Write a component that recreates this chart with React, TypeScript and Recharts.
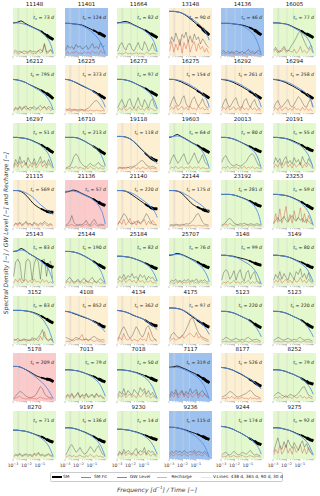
import React from "react";
import { LineChart, Line, XAxis, YAxis, ReferenceLine } from "recharts";

// station ids, one per panel (6 columns x 8 rows)
const stations = [
  "11148", "11401", "11664", "13148", "14136", "16005",
  "16212", "16225", "16273", "16275", "16292", "16294",
  "16297", "16710", "19118", "19603", "20013", "20191",
  "21115", "21136", "21140", "22144", "23192", "23253",
  "25143", "25144", "25184", "25707", "3148", "3149",
  "3152", "4108", "4134", "4175", "5123", "5123",
  "5178", "7013", "7018", "7117", "8177", "8252",
  "8270", "9197", "9230", "9236", "9244", "9275",
];

// panel class: g = green, o = orange, b = blue, r = red
const classes = [
  "g", "b", "g", "o", "b", "g",
  "g", "o", "g", "o", "o", "o",
  "g", "g", "o", "g", "g", "g",
  "o", "r", "o", "o", "g", "g",
  "g", "g", "g", "g", "g", "g",
  "g", "o", "o", "o", "g", "g",
  "r", "g", "g", "b", "o", "g",
  "g", "g", "g", "b", "g", "g",
];

const tcDays = [
  73, 124, 82, 90, 46, 77,
  795, 373, 97, 154, 261, 258,
  51, 213, 118, 64, 80, 55,
  569, 57, 220, 175, 281, 59,
  83, 190, 82, 76, 99, 80,
  83, 852, 362, 97, 220, 220,
  209, 79, 50, 319, 526, 79,
  71, 136, 14, 115, 174, 92,
];

const specFreq = [0.001, 0.002, 0.004, 0.008, 0.015, 0.03, 0.06, 0.12, 0.2, 0.3, 0.45, 0.6, 0.8, 1.0];
const noiseFreq = [
  0.00112, 0.00158, 0.00229, 0.00324, 0.00457, 0.00661, 0.00933, 0.0132, 0.0186, 0.0269,
  0.038, 0.0537, 0.0776, 0.11, 0.155, 0.219, 0.316, 0.447, 0.631, 0.891,
];

const smCurves = [
  [69, 70, 73, 68, 64, 60, 56, 52, 47, 44, 40, 38, 36, 34],
  [68, 68, 67, 66, 65, 62, 58, 54, 51, 48, 46, 44, 42, 40],
  [69, 70, 72, 70, 66, 62, 58, 54, 50, 47, 44, 42, 40, 38],
  [93, 93, 92, 90, 86, 80, 73, 66, 61, 57, 52, 49, 46, 44],
  [68, 68, 68, 67, 66, 65, 63, 60, 57, 54, 51, 48, 46, 44],
  [69, 69, 68, 67, 65, 61, 57, 53, 49, 46, 44, 42, 40, 38],
  [70, 69, 67, 64, 60, 56, 52, 48, 44, 41, 38, 35, 32, 30],
  [70, 69, 66, 62, 58, 54, 50, 46, 42, 39, 36, 34, 32, 30],
  [70, 70, 69, 67, 64, 60, 56, 52, 48, 45, 42, 40, 38, 36],
  [70, 70, 68, 65, 61, 57, 52, 47, 43, 40, 37, 35, 33, 31],
  [70, 69, 67, 64, 60, 56, 51, 46, 42, 39, 36, 34, 32, 30],
  [70, 69, 67, 64, 60, 56, 51, 46, 42, 39, 36, 34, 32, 30],
  [70, 70, 69, 68, 66, 63, 59, 55, 51, 48, 45, 42, 40, 38],
  [70, 70, 70, 69, 66, 62, 57, 52, 48, 45, 41, 39, 37, 35],
  [72, 72, 71, 68, 63, 55, 46, 38, 32, 28, 25, 23, 22, 21],
  [70, 72, 76, 72, 68, 63, 58, 54, 50, 47, 44, 42, 40, 38],
  [70, 70, 69, 67, 64, 60, 56, 52, 49, 46, 44, 42, 41, 40],
  [70, 70, 69, 68, 66, 63, 59, 55, 51, 48, 46, 44, 43, 42],
  [78, 78, 76, 70, 62, 52, 45, 40, 37, 35, 34, 33, 33, 33],
  [75, 76, 79, 77, 73, 69, 65, 61, 57, 54, 51, 49, 48, 47],
  [78, 78, 77, 73, 68, 62, 56, 50, 46, 43, 41, 40, 40, 40],
  [78, 78, 77, 73, 66, 57, 49, 44, 41, 39, 37, 36, 35, 35],
  [70, 70, 70, 69, 67, 64, 61, 57, 54, 51, 49, 47, 46, 45],
  [70, 70, 69, 68, 66, 63, 59, 55, 51, 48, 45, 43, 41, 40],
  [72, 73, 78, 74, 68, 63, 58, 53, 49, 46, 43, 41, 40, 39],
  [72, 72, 71, 69, 66, 62, 57, 52, 48, 45, 42, 40, 38, 37],
  [62, 62, 61, 60, 58, 55, 52, 48, 45, 42, 40, 38, 37, 36],
  [64, 65, 68, 66, 63, 59, 55, 51, 47, 44, 42, 40, 39, 38],
  [64, 64, 63, 62, 60, 58, 56, 53, 50, 48, 46, 45, 44, 44],
  [64, 64, 63, 62, 60, 57, 53, 50, 47, 44, 42, 40, 39, 38],
  [70, 70, 70, 69, 68, 66, 63, 59, 55, 52, 49, 47, 45, 44],
  [68, 67, 64, 61, 58, 55, 52, 48, 45, 42, 39, 37, 36, 35],
  [70, 69, 67, 64, 60, 57, 54, 50, 46, 43, 40, 39, 38, 38],
  [75, 75, 74, 72, 68, 62, 56, 50, 46, 43, 40, 38, 36, 35],
  [68, 68, 67, 65, 62, 58, 54, 50, 46, 42, 39, 37, 35, 34],
  [68, 68, 67, 65, 62, 58, 54, 50, 46, 42, 39, 37, 35, 34],
  [72, 72, 70, 66, 62, 57, 52, 49, 47, 46, 45, 44, 42, 40],
  [65, 65, 64, 63, 61, 58, 55, 52, 49, 46, 44, 42, 41, 40],
  [65, 65, 64, 63, 61, 59, 56, 53, 50, 48, 46, 44, 43, 42],
  [70, 71, 73, 70, 67, 63, 59, 55, 51, 48, 45, 42, 40, 38],
  [70, 69, 67, 64, 60, 56, 51, 46, 42, 39, 36, 34, 32, 31],
  [65, 65, 64, 62, 59, 56, 52, 48, 44, 41, 38, 37, 36, 35],
  [60, 60, 59, 58, 56, 53, 50, 47, 44, 41, 39, 37, 36, 35],
  [65, 65, 64, 62, 59, 56, 52, 48, 44, 41, 39, 37, 36, 35],
  [62, 62, 61, 60, 58, 56, 53, 50, 47, 45, 43, 42, 41, 40],
  [66, 66, 65, 63, 61, 58, 55, 52, 49, 47, 45, 43, 42, 41],
  [68, 67, 65, 62, 58, 54, 49, 44, 40, 37, 34, 32, 31, 30],
  [65, 65, 64, 62, 60, 57, 53, 50, 47, 44, 42, 40, 39, 38],
];

const fitCurves = [
  [69, 69, 68, 66, 63, 59, 55, 50, 45, 40, 33, 26, 16, 5],
  [68, 68, 67, 66, 64, 60, 55, 48, 42, 36, 28, 21, 12, 3],
  [69, 69, 69, 68, 65, 61, 57, 52, 47, 42, 35, 28, 18, 8],
  [93, 93, 92, 90, 87, 82, 76, 70, 65, 60, 53, 47, 40, 33],
  [68, 68, 68, 67, 66, 64, 60, 54, 48, 42, 33, 24, 13, 3],
  [69, 69, 68, 67, 64, 60, 55, 50, 45, 40, 33, 26, 16, 6],
  [70, 69, 67, 64, 60, 55, 50, 45, 40, 35, 28, 22, 14, 6],
  [70, 69, 66, 63, 59, 55, 50, 45, 41, 37, 31, 26, 19, 12],
  [70, 70, 69, 67, 64, 60, 55, 50, 45, 40, 33, 26, 17, 8],
  [70, 70, 69, 67, 64, 60, 55, 50, 45, 41, 35, 29, 21, 12],
  [70, 70, 68, 66, 63, 59, 54, 49, 45, 41, 35, 29, 21, 12],
  [70, 70, 68, 66, 63, 59, 54, 49, 45, 41, 35, 29, 21, 12],
  [70, 70, 69, 68, 66, 62, 58, 53, 47, 42, 34, 26, 16, 6],
  [70, 70, 70, 69, 66, 62, 57, 52, 47, 42, 35, 28, 19, 10],
  [72, 72, 71, 68, 63, 56, 47, 39, 33, 29, 25, 22, 18, 15],
  [71, 72, 73, 71, 67, 62, 57, 52, 47, 41, 33, 25, 15, 5],
  [70, 70, 69, 67, 64, 60, 55, 50, 45, 40, 33, 25, 15, 5],
  [70, 70, 69, 68, 65, 61, 57, 52, 46, 40, 32, 24, 14, 5],
  [78, 78, 77, 74, 70, 64, 56, 48, 43, 39, 35, 32, 30, 28],
  [76, 77, 77, 75, 72, 68, 64, 59, 54, 48, 40, 32, 20, 8],
  [78, 78, 77, 75, 72, 67, 61, 55, 50, 46, 40, 35, 29, 22],
  [78, 78, 77, 75, 71, 66, 60, 54, 50, 46, 42, 39, 36, 34],
  [70, 70, 70, 69, 67, 64, 60, 56, 51, 46, 38, 30, 18, 5],
  [70, 70, 69, 68, 66, 62, 58, 52, 46, 40, 32, 24, 14, 5],
  [72, 73, 75, 73, 68, 63, 58, 52, 46, 41, 34, 26, 16, 6],
  [72, 72, 71, 69, 66, 62, 57, 51, 46, 40, 32, 24, 14, 5],
  [62, 62, 61, 60, 58, 55, 51, 47, 43, 38, 31, 25, 17, 10],
  [65, 65, 66, 65, 62, 58, 53, 48, 43, 38, 31, 25, 17, 9],
  [64, 64, 63, 61, 59, 55, 50, 45, 40, 34, 27, 20, 11, 4],
  [64, 64, 63, 62, 60, 56, 52, 47, 42, 37, 30, 23, 15, 8],
  [70, 70, 70, 69, 68, 65, 61, 55, 48, 40, 31, 22, 12, 3],
  [68, 67, 65, 62, 59, 56, 52, 48, 44, 40, 36, 32, 28, 25],
  [70, 69, 67, 64, 61, 57, 54, 50, 46, 42, 38, 35, 32, 30],
  [75, 75, 74, 72, 69, 64, 58, 52, 47, 42, 36, 31, 25, 20],
  [68, 68, 67, 65, 62, 58, 54, 49, 44, 39, 33, 27, 21, 15],
  [68, 68, 67, 65, 62, 58, 54, 49, 44, 39, 33, 27, 21, 15],
  [72, 72, 70, 66, 61, 55, 48, 41, 35, 29, 22, 16, 10, 5],
  [65, 65, 64, 63, 61, 58, 54, 49, 44, 39, 32, 25, 17, 10],
  [65, 65, 64, 63, 61, 58, 54, 49, 43, 37, 29, 21, 12, 5],
  [70, 70, 70, 68, 65, 61, 56, 50, 44, 38, 30, 22, 12, 4],
  [70, 69, 67, 64, 61, 57, 52, 47, 43, 39, 35, 31, 28, 25],
  [65, 65, 64, 62, 59, 56, 52, 48, 43, 38, 32, 27, 20, 14],
  [60, 60, 59, 58, 56, 53, 49, 44, 39, 34, 27, 20, 12, 5],
  [65, 65, 64, 62, 59, 55, 51, 46, 41, 35, 28, 21, 12, 5],
  [62, 62, 61, 60, 58, 55, 52, 47, 42, 37, 30, 24, 16, 10],
  [66, 66, 65, 63, 60, 56, 51, 45, 39, 34, 27, 20, 11, 3],
  [68, 67, 65, 62, 58, 54, 49, 44, 40, 35, 29, 24, 17, 10],
  [65, 65, 64, 62, 60, 56, 52, 47, 42, 37, 30, 23, 15, 8],
];

const gwCurves = [
  [9, 12, 8, 10, 7, 11, 9, 8, 12, 9, 10, 8, 11, 14, 9, 26, 8, 10, 12, 9],
  [12, 22, 16, 20, 14, 24, 18, 21, 15, 17, 22, 14, 19, 26, 16, 20, 15, 28, 18, 22],
  [10, 22, 28, 18, 12, 24, 26, 14, 10, 20, 28, 16, 12, 30, 22, 10, 14, 26, 12, 10],
  [25, 40, 30, 48, 35, 22, 45, 38, 50, 30, 42, 28, 46, 34, 40, 25, 36, 30, 22, 18],
  [8, 12, 6, 10, 7, 9, 6, 11, 8, 7, 10, 6, 9, 14, 7, 10, 6, 9, 12, 7],
  [12, 18, 10, 8, 14, 20, 12, 10, 16, 24, 30, 38, 48, 52, 40, 30, 20, 14, 22, 18],
  [6, 12, 8, 14, 9, 11, 15, 8, 12, 10, 14, 9, 12, 16, 10, 13, 9, 14, 11, 8],
  [8, 7, 9, 6, 8, 7, 6, 8, 7, 6, 8, 10, 14, 20, 24, 26, 22, 16, 10, 6],
  [10, 20, 28, 18, 12, 26, 30, 16, 10, 22, 32, 18, 12, 28, 20, 10, 24, 30, 14, 10],
  [12, 24, 34, 22, 14, 18, 30, 36, 20, 12, 16, 28, 34, 22, 14, 20, 30, 18, 12, 10],
  [10, 22, 30, 18, 12, 20, 28, 32, 18, 10, 14, 26, 30, 18, 12, 22, 28, 16, 10, 8],
  [10, 20, 26, 16, 12, 18, 24, 28, 16, 12, 18, 26, 34, 30, 22, 14, 12, 22, 30, 12],
  [10, 24, 14, 30, 16, 22, 12, 28, 18, 14, 26, 12, 20, 30, 16, 22, 12, 24, 14, 10],
  [6, 8, 10, 18, 30, 36, 30, 20, 14, 10, 8, 12, 16, 12, 10, 14, 18, 12, 10, 8],
  [6, 8, 7, 6, 8, 7, 9, 8, 10, 12, 16, 20, 22, 18, 12, 10, 8, 10, 8, 6],
  [14, 26, 34, 24, 16, 22, 30, 36, 22, 14, 20, 28, 38, 26, 16, 24, 34, 20, 14, 12],
  [18, 28, 32, 24, 16, 12, 10, 14, 12, 10, 12, 16, 20, 28, 34, 36, 30, 20, 12, 10],
  [14, 28, 18, 26, 12, 24, 30, 16, 22, 14, 28, 18, 24, 12, 30, 20, 14, 26, 18, 12],
  [6, 10, 8, 12, 7, 9, 14, 8, 10, 6, 12, 9, 7, 11, 8, 14, 10, 7, 9, 6],
  [6, 8, 14, 26, 12, 7, 6, 8, 7, 10, 16, 8, 6, 14, 18, 10, 6, 8, 7, 6],
  [8, 14, 22, 30, 26, 16, 10, 8, 10, 14, 12, 10, 14, 22, 30, 24, 14, 8, 7, 6],
  [6, 7, 6, 8, 7, 6, 8, 7, 9, 8, 10, 14, 20, 28, 30, 22, 12, 8, 7, 6],
  [6, 8, 12, 18, 20, 16, 10, 8, 7, 9, 8, 10, 8, 7, 9, 8, 7, 9, 8, 6],
  [10, 16, 22, 14, 18, 24, 16, 12, 20, 26, 18, 14, 22, 16, 20, 12, 18, 14, 10, 8],
  [20, 50, 56, 48, 14, 10, 52, 56, 50, 12, 46, 58, 50, 14, 54, 56, 20, 48, 52, 16],
  [8, 14, 18, 12, 8, 10, 14, 8, 12, 16, 10, 8, 14, 18, 10, 8, 12, 16, 10, 8],
  [12, 20, 16, 24, 14, 22, 18, 26, 16, 20, 14, 24, 18, 22, 12, 20, 16, 18, 12, 10],
  [8, 12, 10, 14, 9, 12, 8, 13, 10, 14, 9, 12, 10, 15, 8, 12, 10, 13, 9, 8],
  [12, 28, 34, 30, 14, 22, 32, 12, 26, 34, 18, 10, 28, 32, 14, 24, 30, 12, 8, 6],
  [12, 24, 16, 30, 14, 26, 18, 12, 28, 20, 14, 30, 24, 36, 18, 26, 14, 28, 12, 8],
  [10, 8, 12, 7, 9, 8, 10, 7, 9, 8, 12, 10, 14, 20, 30, 16, 10, 8, 10, 8],
  [14, 12, 10, 8, 10, 14, 12, 10, 8, 9, 10, 8, 10, 14, 16, 12, 10, 8, 9, 8],
  [10, 18, 30, 36, 28, 18, 12, 16, 26, 36, 30, 20, 14, 22, 34, 38, 28, 16, 10, 8],
  [10, 20, 24, 18, 14, 12, 16, 22, 30, 40, 50, 56, 46, 34, 24, 18, 14, 12, 10, 8],
  [8, 10, 14, 12, 9, 8, 10, 12, 9, 8, 10, 8, 12, 14, 10, 8, 9, 10, 8, 6],
  [8, 10, 14, 12, 9, 8, 10, 12, 9, 8, 10, 8, 12, 14, 10, 8, 9, 10, 8, 6],
  [6, 10, 16, 20, 18, 14, 10, 8, 7, 8, 10, 14, 22, 30, 26, 16, 10, 8, 7, 6],
  [8, 14, 10, 16, 8, 12, 18, 8, 14, 10, 16, 8, 12, 14, 8, 16, 10, 12, 8, 6],
  [10, 20, 14, 26, 12, 22, 16, 12, 24, 18, 14, 28, 20, 26, 14, 22, 12, 18, 10, 8],
  [10, 20, 14, 24, 12, 18, 22, 12, 20, 14, 26, 16, 20, 24, 12, 18, 22, 14, 10, 8],
  [8, 10, 12, 16, 20, 18, 14, 10, 8, 10, 12, 14, 16, 20, 22, 18, 12, 10, 8, 6],
  [10, 14, 18, 16, 12, 10, 8, 10, 14, 12, 10, 12, 16, 22, 28, 30, 20, 12, 10, 8],
  [6, 10, 8, 12, 7, 9, 11, 8, 10, 7, 12, 9, 14, 8, 10, 7, 9, 11, 8, 6],
  [8, 16, 26, 30, 22, 14, 18, 24, 16, 10, 12, 18, 26, 20, 14, 22, 28, 18, 10, 8],
  [8, 16, 10, 20, 12, 18, 14, 10, 16, 22, 12, 18, 14, 24, 10, 18, 14, 16, 10, 8],
  [10, 16, 12, 18, 14, 16, 12, 18, 14, 12, 16, 14, 18, 12, 16, 14, 12, 16, 12, 10],
  [8, 12, 14, 10, 8, 12, 16, 12, 8, 10, 14, 12, 10, 14, 18, 12, 8, 10, 8, 6],
  [14, 30, 44, 28, 20, 36, 24, 40, 30, 22, 34, 26, 18, 30, 38, 24, 32, 20, 14, 10],
];

const rechargeCurves = [
  [5, 8, 4, 6, 9, 4, 7, 5, 10, 4, 6, 5, 12, 6, 8, 24, 5, 7, 14, 4],
  [5, 9, 4, 8, 6, 10, 5, 7, 4, 9, 6, 8, 5, 11, 6, 8, 4, 12, 6, 9],
  [4, 6, 4, 5, 8, 4, 6, 4, 5, 7, 4, 6, 5, 4, 8, 5, 4, 6, 5, 4],
  [10, 30, 8, 25, 12, 35, 6, 28, 15, 32, 8, 22, 30, 10, 26, 14, 20, 8, 16, 6],
  [4, 7, 3, 6, 4, 8, 3, 5, 4, 6, 3, 7, 4, 5, 3, 6, 4, 8, 5, 3],
  [8, 14, 6, 12, 9, 16, 7, 12, 10, 8, 14, 6, 10, 20, 8, 12, 6, 10, 16, 8],
  [4, 10, 6, 12, 5, 14, 7, 10, 5, 12, 8, 6, 11, 5, 9, 14, 6, 10, 5, 8],
  [4, 6, 5, 4, 6, 5, 4, 5, 6, 4, 5, 4, 6, 5, 4, 6, 5, 4, 5, 4],
  [5, 10, 6, 14, 5, 8, 12, 6, 10, 5, 14, 7, 9, 5, 12, 6, 10, 8, 5, 6],
  [6, 12, 8, 16, 6, 10, 14, 7, 12, 6, 15, 8, 10, 6, 14, 8, 12, 6, 9, 5],
  [5, 12, 7, 14, 6, 10, 13, 6, 11, 5, 14, 7, 10, 6, 13, 7, 11, 5, 8, 4],
  [5, 11, 6, 13, 5, 9, 12, 6, 10, 5, 13, 7, 9, 5, 12, 6, 10, 5, 8, 4],
  [6, 16, 8, 20, 7, 12, 18, 6, 14, 8, 18, 6, 12, 20, 8, 14, 6, 16, 10, 6],
  [4, 6, 5, 8, 6, 10, 5, 8, 6, 4, 7, 5, 10, 6, 4, 8, 5, 7, 4, 5],
  [4, 6, 5, 7, 4, 8, 5, 6, 9, 5, 7, 4, 8, 6, 5, 7, 4, 6, 5, 4],
  [5, 8, 6, 10, 5, 7, 9, 5, 8, 6, 10, 5, 8, 6, 9, 5, 7, 6, 5, 4],
  [5, 8, 6, 10, 5, 8, 6, 9, 5, 7, 6, 10, 5, 8, 6, 9, 5, 7, 6, 5],
  [6, 14, 8, 18, 6, 12, 20, 8, 14, 6, 16, 8, 12, 18, 6, 14, 8, 16, 10, 6],
  [4, 9, 5, 11, 4, 7, 12, 5, 9, 4, 10, 6, 4, 8, 5, 10, 6, 4, 7, 4],
  [4, 5, 6, 8, 5, 4, 6, 5, 4, 6, 8, 5, 4, 6, 10, 5, 4, 5, 6, 4],
  [6, 14, 8, 18, 6, 12, 20, 8, 14, 6, 16, 8, 12, 18, 6, 14, 8, 16, 10, 6],
  [4, 5, 4, 6, 5, 4, 5, 6, 4, 5, 4, 6, 5, 4, 6, 5, 4, 5, 4, 4],
  [4, 6, 8, 5, 10, 6, 4, 7, 5, 6, 4, 5, 7, 4, 6, 5, 4, 6, 5, 4],
  [8, 30, 12, 40, 10, 24, 45, 14, 28, 10, 36, 16, 22, 42, 12, 30, 10, 26, 16, 8],
  [6, 14, 8, 16, 6, 10, 14, 7, 12, 6, 15, 8, 10, 6, 14, 8, 12, 6, 9, 5],
  [5, 10, 6, 12, 5, 8, 11, 5, 9, 5, 12, 6, 8, 5, 11, 6, 9, 5, 7, 4],
  [6, 12, 8, 16, 7, 12, 14, 8, 12, 6, 14, 8, 12, 6, 10, 8, 12, 6, 8, 5],
  [5, 8, 4, 9, 6, 10, 5, 8, 6, 9, 5, 10, 6, 8, 5, 9, 6, 8, 5, 4],
  [4, 8, 6, 10, 5, 8, 12, 6, 9, 5, 10, 6, 8, 12, 5, 9, 6, 10, 6, 4],
  [6, 12, 8, 16, 6, 10, 14, 7, 12, 6, 15, 8, 10, 18, 8, 12, 6, 14, 8, 5],
  [6, 10, 5, 8, 6, 12, 5, 9, 6, 14, 7, 10, 6, 16, 8, 26, 10, 6, 12, 5],
  [5, 6, 5, 8, 6, 10, 8, 14, 20, 8, 12, 6, 10, 7, 5, 8, 6, 5, 4, 4],
  [6, 14, 8, 22, 10, 8, 12, 6, 10, 8, 6, 12, 8, 10, 6, 24, 8, 6, 10, 5],
  [6, 10, 12, 8, 10, 14, 18, 12, 16, 20, 22, 18, 14, 24, 12, 16, 10, 8, 6, 5],
  [4, 5, 6, 5, 4, 6, 5, 4, 5, 6, 4, 5, 6, 4, 5, 6, 4, 5, 4, 4],
  [4, 5, 6, 5, 4, 6, 5, 4, 5, 6, 4, 5, 6, 4, 5, 6, 4, 5, 4, 4],
  [4, 6, 8, 10, 6, 5, 4, 5, 4, 6, 5, 4, 6, 8, 6, 5, 4, 5, 4, 4],
  [5, 12, 6, 14, 5, 10, 16, 6, 12, 5, 14, 7, 10, 12, 6, 14, 8, 10, 6, 4],
  [6, 12, 8, 16, 7, 12, 14, 8, 12, 6, 14, 8, 12, 20, 8, 12, 6, 10, 8, 5],
  [6, 14, 8, 18, 6, 12, 20, 8, 14, 6, 16, 8, 12, 18, 6, 14, 8, 16, 10, 6],
  [4, 6, 5, 8, 6, 10, 5, 7, 4, 6, 8, 5, 6, 4, 7, 5, 6, 4, 5, 4],
  [5, 8, 6, 10, 5, 8, 12, 6, 9, 5, 10, 6, 8, 12, 6, 9, 5, 8, 6, 4],
  [4, 8, 6, 10, 5, 7, 9, 5, 8, 4, 10, 6, 12, 6, 8, 5, 7, 9, 6, 4],
  [4, 6, 8, 5, 7, 4, 6, 8, 5, 4, 7, 5, 10, 6, 4, 8, 5, 6, 4, 4],
  [6, 12, 8, 14, 7, 12, 10, 8, 12, 6, 14, 8, 10, 16, 8, 12, 6, 10, 8, 5],
  [5, 10, 6, 12, 8, 10, 6, 12, 8, 6, 10, 8, 14, 6, 10, 8, 6, 12, 8, 5],
  [4, 6, 5, 8, 4, 6, 7, 5, 4, 6, 8, 5, 4, 6, 7, 5, 4, 6, 5, 4],
  [8, 20, 12, 28, 10, 18, 30, 12, 22, 10, 26, 14, 18, 30, 12, 22, 10, 24, 14, 8],
];

const vLineDays = [438, 365, 90, 30];
const majorTicks = [0.001, 0.01, 0.1];
const majorTickExp = ["\u22123", "\u22122", "\u22121"];
const minorTicks = [
  0.002, 0.003, 0.004, 0.005, 0.006, 0.007, 0.008, 0.009,
  0.02, 0.03, 0.04, 0.05, 0.06, 0.07, 0.08, 0.09,
  0.2, 0.3, 0.4, 0.5, 0.6, 0.7, 0.8, 0.9, 1,
];

const bgColors: Record<string, string> = {
  g: "#e3f8cd",
  o: "#fdefd2",
  b: "#9ec2ef",
  r: "#fbcaca",
};

const FONT = "'DejaVu Sans', sans-serif";
const PW = 43;
const PH = 48;
const AXIS_H = 12;
const PAD = 8; // room on each side of the plot for the tick labels

function makeTick(showLabels: boolean) {
  return (props: any) => {
    const { x, y, payload } = props;
    const mi = majorTicks.indexOf(payload.value);
    const major = mi >= 0;
    return (
      <g>
        <line x1={x} x2={x} y1={y} y2={y + (major ? 2.2 : 1.2)} stroke="#777" strokeWidth={0.4} />
        {showLabels && major && (
          <text x={x} y={y + 8.2} textAnchor="middle" fontSize={4.6} fill="#333" fontFamily={FONT}>
            10
            <tspan dy={-2} fontSize={3.3}>
              {majorTickExp[mi]}
            </tspan>
          </text>
        )}
      </g>
    );
  };
}

function Panel({ idx }: { idx: number }) {
  const row = Math.floor(idx / 6);
  const col = idx % 6;
  const left = 13 + col * 52;
  const top = 7.5 + row * 57.6;
  const lastRow = row === 7;

  const specData = specFreq.map((f, i) => {
    const v = smCurves[idx][i];
    return {
      f,
      sm: v,
      fit: fitCurves[idx][i],
      tailA: f >= 0.12 ? v : null,
      tailB: f >= 0.3 ? v : null,
    };
  });
  const noiseData = noiseFreq.map((f, i) => ({ f, gw: gwCurves[idx][i], rc: rechargeCurves[idx][i] }));

  return (
    <>
      <div
        style={{
          position: "absolute",
          left: left - 10,
          width: PW + 20,
          top: top - 7,
          textAlign: "center",
          fontSize: 5.5,
          lineHeight: "6px",
          fontFamily: FONT,
          color: "#111",
        }}
      >
        {stations[idx]}
      </div>
      <div
        style={{ position: "absolute", left, top, width: PW, height: PH, background: bgColors[classes[idx]] }}
      />
      <div style={{ position: "absolute", left: left - PAD, top }}>
        <LineChart
          width={PW + 2 * PAD}
          height={PH + AXIS_H}
          data={specData}
          margin={{ top: 0, right: PAD, bottom: 0, left: PAD }}
        >
          <XAxis
            dataKey="f"
            type="number"
            scale="log"
            domain={[0.001, 1.6]}
            allowDataOverflow
            ticks={[...majorTicks, ...minorTicks]}
            interval={0}
            height={AXIS_H}
            axisLine={false}
            tickLine={false}
            tickSize={0}
            tickMargin={0}
            tick={makeTick(lastRow)}
          />
          <YAxis hide type="number" domain={[0, 100]} allowDataOverflow />
          {vLineDays.map((d) => (
            <ReferenceLine key={d} x={1 / d} stroke="#d4d4d4" strokeWidth={0.5} />
          ))}
          <Line
            data={noiseData}
            dataKey="rc"
            type="linear"
            stroke="#d23a2a"
            strokeOpacity={0.75}
            strokeWidth={0.5}
            dot={false}
            isAnimationActive={false}
          />
          <Line
            data={noiseData}
            dataKey="gw"
            type="linear"
            stroke="#333"
            strokeOpacity={0.75}
            strokeWidth={0.5}
            dot={false}
            isAnimationActive={false}
          />
          <Line dataKey="sm" type="monotone" stroke="#000" strokeWidth={0.9} dot={false} isAnimationActive={false} />
          <Line dataKey="tailA" type="monotone" stroke="#000" strokeWidth={1.8} dot={false} isAnimationActive={false} />
          <Line dataKey="tailB" type="monotone" stroke="#000" strokeWidth={3} dot={false} isAnimationActive={false} />
          <Line dataKey="fit" type="monotone" stroke="#5590e8" strokeWidth={0.9} dot={false} isAnimationActive={false} />
        </LineChart>
      </div>
      <div
        style={{
          position: "absolute",
          left,
          width: PW - 2,
          top: top + 7,
          textAlign: "right",
          fontSize: 4.6,
          lineHeight: "6px",
          fontFamily: FONT,
          color: "#222",
          whiteSpace: "nowrap",
        }}
      >
        <span style={{ fontStyle: "italic" }}>t</span>
        <span style={{ fontSize: 3.4, position: "relative", top: 1 }}>c</span>
        {" = " + tcDays[idx] + " "}
        <span style={{ fontStyle: "italic" }}>d</span>
      </div>
    </>
  );
}

const legendItems = [
  { label: "SM", color: "#000", width: 1.2, x: 52, tx: 63 },
  { label: "SM Fit", color: "#5590e8", width: 1, x: 81, tx: 94 },
  { label: "GW Level", color: "#888", width: 0.8, x: 117, tx: 130 },
  { label: "Recharge", color: "#efa7a0", width: 0.8, x: 157, tx: 171.5 },
  { label: "V.Lines: 438 d, 365 d, 90 d, 30 d", color: "#e4e4e4", width: 0.8, x: 201, tx: 213 },
];

export default function App() {
  return (
    <div
      style={{
        position: "absolute",
        left: 0,
        top: 0,
        width: 320,
        height: 496,
        background: "#fff",
        overflow: "hidden",
        fontFamily: FONT,
      }}
    >
      {stations.map((_, i) => (
        <Panel key={i} idx={i} />
      ))}

      <div
        style={{
          position: "absolute",
          left: 5,
          top: 233,
          transform: "translate(-50%, -50%) rotate(-90deg)",
          whiteSpace: "nowrap",
          fontSize: 6,
          fontStyle: "italic",
          color: "#333",
        }}
      >
        Spectral Density [−] / GW Level [−] and Recharge [−]
      </div>

      <div
        style={{
          position: "absolute",
          left: 49.5,
          top: 472,
          width: 233,
          height: 10,
          border: "0.5px solid #ccc",
          borderRadius: 1.5,
          boxSizing: "border-box",
        }}
      />
      {legendItems.map((it) => (
        <React.Fragment key={it.label}>
          <div
            style={{
              position: "absolute",
              left: it.x,
              top: 477 - it.width / 2,
              width: 9.5,
              height: it.width,
              background: it.color,
            }}
          />
          <div
            style={{
              position: "absolute",
              left: it.tx,
              top: 474,
              fontSize: 4.3,
              lineHeight: "6px",
              color: "#222",
              whiteSpace: "nowrap",
            }}
          >
            {it.label}
          </div>
        </React.Fragment>
      ))}

      <div
        style={{
          position: "absolute",
          left: 157,
          top: 489,
          transform: "translate(-50%, -50%)",
          whiteSpace: "nowrap",
          fontSize: 6,
          fontStyle: "italic",
          color: "#333",
        }}
      >
        Frequency [d<sup style={{ fontSize: 4 }}>−1</sup>] / Time [−]
      </div>
    </div>
  );
}
